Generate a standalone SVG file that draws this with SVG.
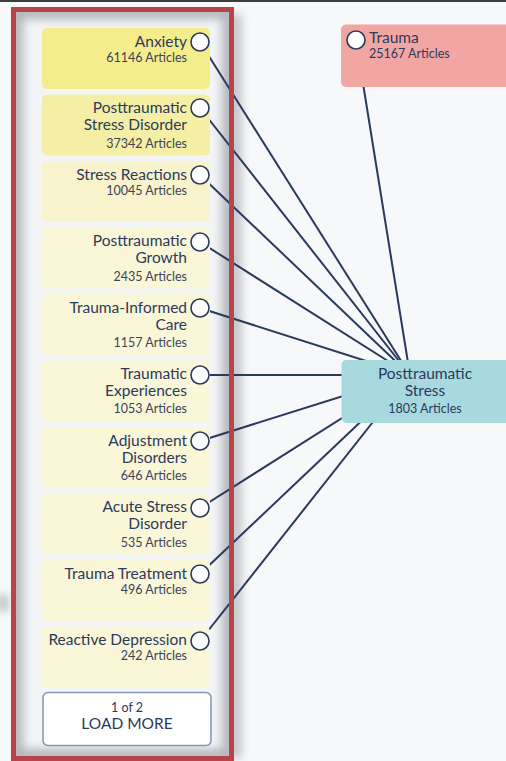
<svg xmlns="http://www.w3.org/2000/svg" width="506" height="761" viewBox="0 0 506 761">
<defs>
<style>
.t{font-family:Lato,"Open Sans","Liberation Sans",sans-serif;font-size:15.5px;fill:#2c3a5a;text-anchor:end}
.a{font-family:Lato,"Open Sans","Liberation Sans",sans-serif;font-size:12.5px;fill:#3b4458;text-anchor:end}
.m{font-family:Lato,"Open Sans","Liberation Sans",sans-serif;fill:#2c3a5a}
.c{fill:#ffffff;stroke:#2c3a5a;stroke-width:1.6}
.e{stroke:#2b3a5c;stroke-width:2;fill:none}
</style>
<filter id="blur" x="-20%" y="-20%" width="140%" height="140%"><feGaussianBlur stdDeviation="5"/></filter>
<filter id="blur2" x="-50%" y="-50%" width="200%" height="200%"><feGaussianBlur stdDeviation="4"/></filter>
<clipPath id="pc"><rect x="16" y="12" width="213" height="744"/></clipPath>
</defs>
<rect x="0" y="0" width="506" height="761" fill="#f7f8fa"/>
<rect x="0" y="0" width="506" height="2" fill="#3c3c3c"/>
<rect x="226" y="14" width="16" height="744" fill="#9ea2a7" opacity="0.55" filter="url(#blur2)"/>
<ellipse cx="3" cy="603" rx="6" ry="10" fill="#9ea2a7" opacity="0.6" filter="url(#blur2)"/>
<g id="panel">
<rect x="16" y="12" width="213" height="744" fill="#f3f4f6"/>
<g clip-path="url(#pc)"><rect x="16" y="12" width="213" height="744" fill="none" stroke="#b3b7bc" stroke-width="14" filter="url(#blur)"/></g>
</g>
<g id="connectors">
<line class="e" x1="200" y1="42" x2="410" y2="375"/>
<line class="e" x1="200" y1="108" x2="410" y2="375"/>
<line class="e" x1="200" y1="175" x2="410" y2="375"/>
<line class="e" x1="200" y1="242" x2="410" y2="375"/>
<line class="e" x1="200" y1="308" x2="410" y2="375"/>
<line class="e" x1="200" y1="375" x2="410" y2="375"/>
<line class="e" x1="200" y1="441" x2="410" y2="375"/>
<line class="e" x1="200" y1="508" x2="410" y2="375"/>
<line class="e" x1="200" y1="574" x2="410" y2="375"/>
<line class="e" x1="200" y1="641" x2="410" y2="375"/>
<line class="e" x1="356" y1="40" x2="410" y2="375"/>
</g>
<rect x="13.5" y="9.5" width="218" height="749" fill="none" stroke="#b9434a" stroke-width="5"/>
<g id="anxiety"><rect x="42" y="28" width="168" height="61" rx="5" fill="#f5ec8c"/><text class="t" x="187" y="47">Anxiety</text><text class="a" x="187" y="62">61146 Articles</text><circle class="c" cx="200" cy="42" r="9"/></g>
<g id="ptsd"><rect x="42" y="94.5" width="168" height="61" rx="5" fill="#f5efa6"/><text class="t" x="187" y="113">Posttraumatic</text><text class="t" x="187" y="130">Stress Disorder</text><text class="a" x="187" y="148">37342 Articles</text><circle class="c" cx="200" cy="108" r="9"/></g>
<g id="stress-reactions"><rect x="42" y="161" width="168" height="61" rx="5" fill="#f8f3cc"/><text class="t" x="187" y="180">Stress Reactions</text><text class="a" x="187" y="195">10045 Articles</text><circle class="c" cx="200" cy="175" r="9"/></g>
<g id="growth"><rect x="42" y="227.5" width="168" height="61" rx="5" fill="#faf6d8"/><text class="t" x="187" y="246">Posttraumatic</text><text class="t" x="187" y="263">Growth</text><text class="a" x="187" y="281">2435 Articles</text><circle class="c" cx="200" cy="242" r="9"/></g>
<g id="trauma-informed"><rect x="42" y="294" width="168" height="61" rx="5" fill="#faf6d8"/><text class="t" x="187" y="313">Trauma-Informed</text><text class="t" x="187" y="330">Care</text><text class="a" x="187" y="347">1157 Articles</text><circle class="c" cx="200" cy="308" r="9"/></g>
<g id="traumatic-experiences"><rect x="42" y="360.5" width="168" height="61" rx="5" fill="#faf6d8"/><text class="t" x="187" y="379">Traumatic</text><text class="t" x="187" y="396">Experiences</text><text class="a" x="187" y="413">1053 Articles</text><circle class="c" cx="200" cy="375" r="9"/></g>
<g id="adjustment"><rect x="42" y="427" width="168" height="61" rx="5" fill="#faf6d8"/><text class="t" x="187" y="446">Adjustment</text><text class="t" x="187" y="463">Disorders</text><text class="a" x="187" y="480">646 Articles</text><circle class="c" cx="200" cy="441" r="9"/></g>
<g id="acute"><rect x="42" y="493.5" width="168" height="61" rx="5" fill="#faf6d8"/><text class="t" x="187" y="512">Acute Stress</text><text class="t" x="187" y="529">Disorder</text><text class="a" x="187" y="547">535 Articles</text><circle class="c" cx="200" cy="508" r="9"/></g>
<g id="trauma-treatment"><rect x="42" y="560" width="168" height="61" rx="5" fill="#faf6d8"/><text class="t" x="187" y="579">Trauma Treatment</text><text class="a" x="187" y="594">496 Articles</text><circle class="c" cx="200" cy="574" r="9"/></g>
<g id="reactive-depression"><rect x="42" y="626.5" width="168" height="61" rx="5" fill="#faf6d8"/><text class="t" x="187" y="645">Reactive Depression</text><text class="a" x="187" y="660">242 Articles</text><circle class="c" cx="200" cy="641" r="9"/></g>
<g id="load-more"><rect x="43" y="692.5" width="168" height="53" rx="5" fill="#ffffff" stroke="#7f97b0" stroke-width="1.5"/><text class="m" x="127" y="712" font-size="12.5" text-anchor="middle" fill="#3b4458">1 of 2</text><text class="m" x="127" y="729" font-size="15.5" text-anchor="middle">LOAD MORE</text></g>
<g id="trauma"><rect x="341" y="24.5" width="172" height="62.5" rx="5" fill="#f2a6a4"/><circle class="c" cx="356" cy="40" r="9"/><text class="m" x="369" y="43" font-size="15.5">Trauma</text><text class="m" x="369" y="58" font-size="12.5" fill="#3b4458">25167 Articles</text></g>
<g id="posttraumatic-stress"><rect x="341.5" y="360" width="172" height="63" rx="5" fill="#a8d9df"/><text class="m" x="425" y="379" font-size="15.5" text-anchor="middle">Posttraumatic</text><text class="m" x="425" y="396" font-size="15.5" text-anchor="middle">Stress</text><text class="m" x="425" y="413" font-size="12.5" text-anchor="middle" fill="#3b4458">1803 Articles</text></g>
</svg>
